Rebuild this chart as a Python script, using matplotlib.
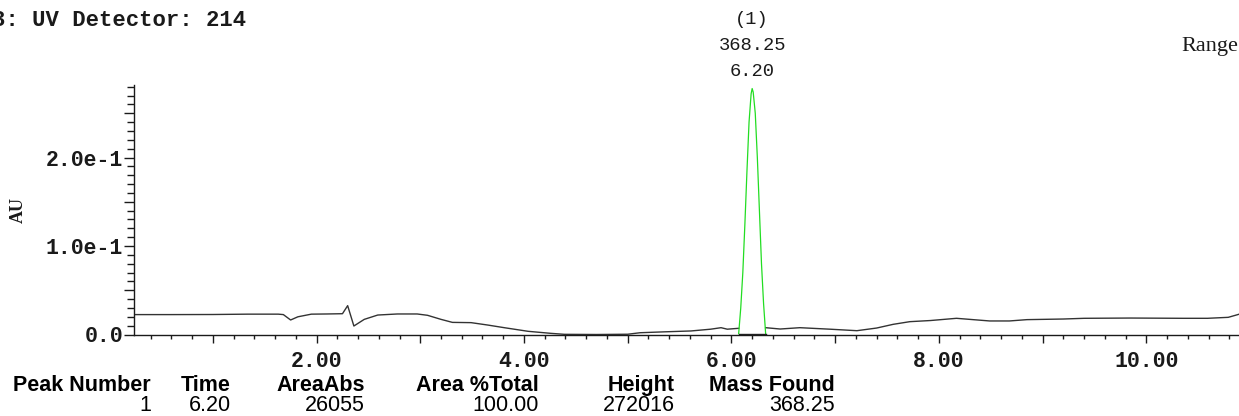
import numpy as np
import matplotlib
matplotlib.use("Agg")
import matplotlib.pyplot as plt
from matplotlib.ticker import MultipleLocator, FuncFormatter

# UV trace (214 nm), split around the integrated peak
trace_t1 = [0.24, 0.60, 1.00, 1.34, 1.63, 1.68, 1.75, 1.82, 1.95, 2.10, 2.25, 2.30, 2.36,
            2.46, 2.59, 2.78, 2.97, 3.07, 3.20, 3.31, 3.49, 3.65, 3.81, 4.04, 4.26, 4.39,
            4.70, 5.00, 5.12, 5.35, 5.61, 5.80, 5.90, 5.96, 6.07]
trace_au1 = [0.0225, 0.0225, 0.0226, 0.0230, 0.0230, 0.0225, 0.0164, 0.0200, 0.0230, 0.0232,
             0.0235, 0.0326, 0.0096, 0.0171, 0.0220, 0.0232, 0.0232, 0.0217, 0.0171, 0.0137,
             0.0134, 0.0107, 0.0077, 0.0036, 0.0013, 0.0002, 0.0000, 0.0003, 0.0020, 0.0030,
             0.0040, 0.0060, 0.0077, 0.0060, 0.0070]
trace_t2 = [6.33, 6.47, 6.66, 6.95, 7.21, 7.40, 7.56, 7.72, 7.92, 8.17, 8.33, 8.49, 8.68,
            8.85, 9.20, 9.40, 9.85, 10.36, 10.59, 10.79, 10.88, 10.95]
trace_au2 = [0.0077, 0.0062, 0.0077, 0.0060, 0.0043, 0.0073, 0.0115, 0.0145, 0.0158, 0.0183,
             0.0168, 0.0153, 0.0153, 0.0168, 0.0175, 0.0183, 0.0186, 0.0183, 0.0183, 0.0194,
             0.0224, 0.0250]

# peak 1
peak_t = [6.07, 6.09, 6.11, 6.13, 6.15, 6.17, 6.19, 6.20, 6.21, 6.23, 6.25, 6.27, 6.29, 6.31, 6.33]
peak_au = [0.001, 0.030, 0.070, 0.125, 0.185, 0.240, 0.272, 0.278, 0.274, 0.250, 0.200, 0.140,
           0.080, 0.035, 0.001]
base_t = [6.07, 6.33]
base_au = [0.001, 0.001]

peak_label = ["(1)", "368.25", "6.20"]
peak_rt = 6.20

table_cols = ["Peak Number", "Time", "AreaAbs", "Area %Total", "Height", "Mass Found"]
table_vals = ["1", "6.20", "26055", "100.00", "272016", "368.25"]
table_right = [151, 231, 365, 539, 675, 835]

W, H = 1239, 416
fig = plt.figure(figsize=(W / 100, H / 100), dpi=100)
ax = fig.add_axes([134 / W, (H - 334.5) / H, (1250 - 134) / W, (334.5 - 85) / H])

ink = '#1a1a1a'
ax.plot(trace_t1, trace_au1, color='#333333', lw=1.0)
ax.plot(trace_t2, trace_au2, color='#333333', lw=1.0)
ax.plot(peak_t, peak_au, color='#22dd22', lw=0.9)
ax.plot(base_t, base_au, color='#222222', lw=1.0)

ax.set_xlim(0.24, 11.0)
ax.set_ylim(0, 0.282)
for s in ['top', 'right']:
    ax.spines[s].set_visible(False)
for s in ['left', 'bottom']:
    ax.spines[s].set_color(ink)
    ax.spines[s].set_linewidth(1.0)

ax.xaxis.set_major_locator(MultipleLocator(1.0))
ax.xaxis.set_minor_locator(MultipleLocator(0.2))
ax.xaxis.set_major_formatter(FuncFormatter(
    lambda v, p: "%.2f" % v if round(v) % 2 == 0 and v > 0.5 else ""))
ax.yaxis.set_major_locator(MultipleLocator(0.05))
ax.yaxis.set_minor_locator(MultipleLocator(0.01))


def yfmt(v, p):
    k = int(round(v * 20))
    if k == 0:
        return "0.0"
    if k % 2 == 0:
        return "%.1fe-1" % (v * 10)
    return ""


ax.yaxis.set_major_formatter(FuncFormatter(yfmt))

mono = 'Liberation Mono'
ax.tick_params(axis='x', which='major', direction='out', length=6, width=1.0, color=ink,
               pad=6, labelsize=15.5)
ax.tick_params(axis='x', which='minor', direction='out', length=3, width=1.0, color=ink)
ax.tick_params(axis='y', which='major', direction='out', length=7, width=1.0, color=ink,
               pad=1, labelsize=15.5)
ax.tick_params(axis='y', which='minor', direction='out', length=5, width=1.0, color=ink)
for lab in ax.get_xticklabels() + ax.get_yticklabels():
    lab.set_fontfamily(mono)
    lab.set_fontweight('bold')
    lab.set_color(ink)

fig.text(18 / W, 1 - 210 / H, "AU", rotation=90, ha='center', va='center',
         fontsize=13, fontweight='bold', family='Liberation Serif', color=ink)

fig.text(-8 / W, 1 - 21 / H, "3: UV Detector: 214", ha='left', va='center',
         fontsize=16, fontweight='bold', family=mono, color=ink)

# peak annotation above the apex
for i, s in enumerate(peak_label):
    ax.annotate(s, xy=(peak_rt, 0.282), xycoords='data',
                xytext=(0, (H - 20 - i * 26) - (H - 85)), textcoords='offset pixels',
                ha='center', va='center', fontsize=13.5, family=mono, color=ink,
                annotation_clip=False)

fig.text(1181 / W, 1 - 46 / H, "Range", ha='left', va='center', fontsize=16,
         family='Liberation Serif', color=ink)

# peak table under the axis
for c, v, r in zip(table_cols, table_vals, table_right):
    fig.text(r / W, 1 - 391 / H, c, ha='right', va='baseline', fontsize=15.5,
             fontweight='bold', family='Liberation Sans', color='black')
    fig.text(r / W, 1 - 411 / H, v, ha='right', va='baseline', fontsize=15.5,
             family='Liberation Sans', color='black')

fig.savefig('out.png', dpi=100)
